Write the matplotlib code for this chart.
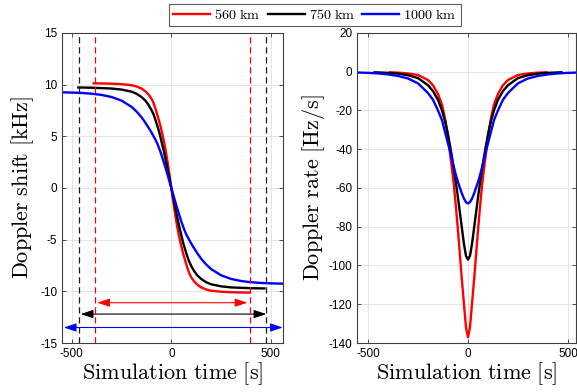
import matplotlib
matplotlib.use("Agg")
import matplotlib.pyplot as plt

plt.rcParams['mathtext.fontset'] = 'cm'
plt.rcParams['axes.unicode_minus'] = False
plt.rcParams['font.family'] = ['Liberation Sans', 'DejaVu Sans']

## values

# 560 km
t_red = [-390, -350, -300, -250, -200, -175, -150, -130, -115, -100, -90, -80, -70, -60, -50, -40, -30, -20, -10, 0,
         10, 20, 30, 40, 50, 60, 70, 80, 90, 100, 115, 130, 150, 175, 200, 250, 300, 350, 392]
shift_red = [10.12, 10.11, 10.09, 10.04, 9.94, 9.82, 9.62, 9.35, 9.05, 8.65, 8.25, 7.7, 7.05, 6.38, 5.62, 4.78, 3.8, 2.65, 1.36, 0,
             -1.36, -2.65, -3.8, -4.78, -5.62, -6.38, -7.05, -7.7, -8.25, -8.65, -9.05, -9.35, -9.62, -9.82, -9.94, -10.04, -10.09, -10.11, -10.12]
rate_red = [-0.3, -0.5, -0.9, -1.7, -4.3, -7, -11.5, -17, -24, -33, -42, -50, -59, -70, -82, -95, -108, -120, -132, -137,
            -132, -120, -108, -95, -82, -70, -59, -50, -42, -33, -24, -17, -11.5, -7, -4.3, -1.7, -0.9, -0.5, -0.3]

# 750 km
t_black = [-467, -400, -350, -300, -250, -200, -175, -150, -130, -115, -100, -90, -80, -70, -60, -50, -40, -30, -20, -10, 0,
           10, 20, 30, 40, 50, 60, 70, 80, 90, 100, 115, 130, 150, 175, 200, 250, 300, 350, 400, 467]
shift_black = [9.72, 9.7, 9.66, 9.62, 9.52, 9.32, 9.12, 8.8, 8.45, 8.05, 7.55, 7.15, 6.6, 6.0, 5.35, 4.55, 3.74, 2.86, 1.93, 0.97, 0,
               -0.97, -1.93, -2.86, -3.74, -4.55, -5.35, -6.0, -6.6, -7.15, -7.55, -8.05, -8.45, -8.8, -9.12, -9.32, -9.52, -9.62, -9.66, -9.7, -9.72]
rate_black = [-0.3, -0.6, -1.0, -1.8, -3.3, -7, -10, -14.5, -20, -25.5, -32.5, -38, -44, -50.5, -57.5, -65, -73, -81, -89, -95, -97,
              -95, -89, -81, -73, -65, -57.5, -50.5, -44, -38, -32.5, -25.5, -20, -14.5, -10, -7, -3.3, -1.8, -1.0, -0.6, -0.3]

# 1000 km
t_blue = [-565, -500, -450, -400, -350, -300, -250, -200, -175, -150, -130, -115, -100, -90, -80, -70, -60, -50, -40, -30, -20, -10, 0,
          10, 20, 30, 40, 50, 60, 70, 80, 90, 100, 115, 130, 150, 175, 200, 250, 300, 350, 400, 450, 500, 565]
shift_blue = [9.26, 9.23, 9.19, 9.12, 9.0, 8.8, 8.45, 7.85, 7.4, 6.85, 6.3, 5.85, 5.38, 5.03, 4.68, 4.28, 3.78, 3.23, 2.63, 2.0, 1.35, 0.68, 0,
              -0.68, -1.35, -2.0, -2.63, -3.23, -3.78, -4.28, -4.68, -5.03, -5.38, -5.85, -6.3, -6.85, -7.4, -7.85, -8.45, -8.8, -9.0, -9.12, -9.19, -9.23, -9.26]
rate_blue = [-0.4, -0.6, -0.9, -1.4, -2.2, -3.5, -6, -11, -14.5, -20, -25, -31, -37, -41, -45.5, -49.5, -53.5, -57, -60, -63, -65.5, -67.3, -68,
             -67.3, -65.5, -63, -60, -57, -53.5, -49.5, -45.5, -41, -37, -31, -25, -20, -14.5, -11, -6, -3.5, -2.2, -1.4, -0.9, -0.6, -0.4]

labels = ['560 km', '750 km', '1000 km']

# visibility window markers (dashed lines) and arrows
win_red = [-383, 395]
win_black = [-462, 477]
arrow_red = [-372, 382]
arrow_black = [-455, 477]
arrow_blue = [-540, 560]
arrow_y = [-11.1, -12.2, -13.5]


def style_axes(ax):
    ax.grid(True, color='0.88', lw=0.6)
    ax.set_axisbelow(True)
    ax.tick_params(direction='in', top=True, right=True, labelsize=8.5, length=3, color='0.2', width=0.6)
    for s in ax.spines.values():
        s.set_color('0.25')
        s.set_linewidth(0.8)


fig = plt.figure(figsize=(5.77, 3.92), dpi=100)

## Doppler shift
ax1 = fig.add_axes([0.1075, 0.125, 0.383, 0.791])
style_axes(ax1)
l1, = ax1.plot(t_red, shift_red, color='red', lw=1.7)
l2, = ax1.plot(t_black, shift_black, color='black', lw=1.7)
l3, = ax1.plot(t_blue, shift_blue, color='blue', lw=1.7)
for x in win_black:
    ax1.axvline(x, color='0.1', ls=(0, (5, 3)), lw=0.9)
for x in win_red:
    ax1.axvline(x, color='red', ls=(0, (5, 3)), lw=0.9)
for (x0, x1), y, c in zip([arrow_red, arrow_black, arrow_blue], arrow_y, ['red', 'black', 'blue']):
    ax1.annotate('', xy=(x1, y), xytext=(x0, y),
                 arrowprops=dict(arrowstyle='<|-|>,head_length=0.75,head_width=0.25', color=c, lw=0.8,
                                 shrinkA=0, shrinkB=0, mutation_scale=10))
ax1.set_xlim(-549, 561)
ax1.set_ylim(-15, 15)
ax1.set_xticks([-500, 0, 500])
ax1.set_yticks([-15, -10, -5, 0, 5, 10, 15])
ax1.set_xlabel(r'$\mathrm{Simulation\ time\ [s]}$', fontsize=16, labelpad=0)
ax1.set_ylabel(r'$\mathrm{Doppler\ shift\ [kHz]}$', fontsize=16, labelpad=3)

## Doppler rate
ax2 = fig.add_axes([0.6187, 0.125, 0.3795, 0.791])
style_axes(ax2)
ax2.plot(t_red, rate_red, color='red', lw=1.7)
ax2.plot(t_black, rate_black, color='black', lw=1.7)
ax2.plot(t_blue, rate_blue, color='blue', lw=1.7)
ax2.set_xlim(-555, 540)
ax2.set_ylim(-140, 20)
ax2.set_xticks([-500, 0, 500])
ax2.set_yticks(list(range(-140, 21, 20)))
ax2.set_xlabel(r'$\mathrm{Simulation\ time\ [s]}$', fontsize=16, labelpad=0)
ax2.set_ylabel(r'$\mathrm{Doppler\ rate\ [Hz/s]}$', fontsize=16, labelpad=1)

leg = fig.legend([l1, l2, l3], [r'$\mathrm{%s}$' % s.replace(' ', r'\ ') for s in labels],
                 loc='center', bbox_to_anchor=(0.546, 0.962), ncol=3, fontsize=10.2,
                 frameon=True, fancybox=False, edgecolor='0.2', handlelength=2.6,
                 handletextpad=0.3, columnspacing=0.5, borderpad=0.3)
leg.get_frame().set_linewidth(0.8)

fig.savefig('out.png', dpi=100)
